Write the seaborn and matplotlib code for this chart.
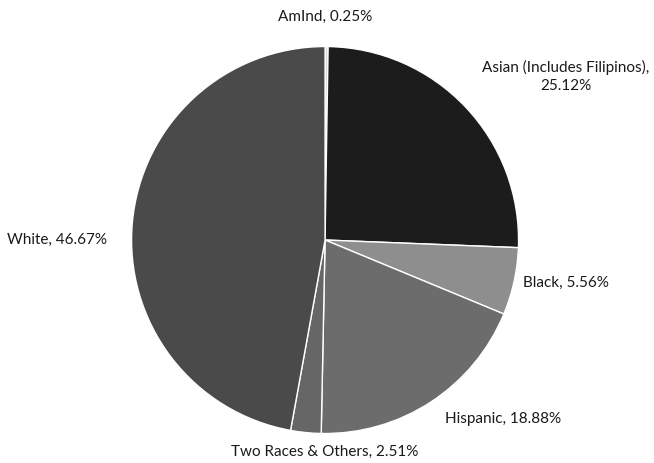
import matplotlib
matplotlib.use("Agg")
import matplotlib.pyplot as plt
import seaborn as sns

# data
groups = ["AmInd", "Asian (Includes Filipinos)", "Black", "Hispanic",
          "Two Races & Others", "White"]
shares = [0.25, 25.12, 5.56, 18.88, 2.51, 46.67]
label_texts = ["AmInd, 0.25%", "Asian (Includes Filipinos),\n25.12%", "Black, 5.56%",
               "Hispanic, 18.88%", "Two Races & Others, 2.51%", "White, 46.67%"]

slice_colors = ["#d8d8d8", "#1c1c1c", "#8e8e8e", "#6c6c6c", "#666666", "#4a4a4a"]
# label anchor points (data units, pie radius = 1)
label_pos = [(0.0, 1.155), (1.245, 0.845), (1.245, -0.22), (0.92, -0.925),
             (0.0, -1.095), (-1.385, 0.0)]

sns.set_style("white")
plt.rcParams["font.family"] = ["Lato", "DejaVu Sans"]

fig = plt.figure(figsize=(6.54, 4.63), dpi=100)
ax = fig.add_axes([0, 0, 1, 1])
ax.pie(shares, colors=slice_colors, startangle=90, counterclock=False,
       wedgeprops={"edgecolor": "white", "linewidth": 1.0})
for txt, (x, y) in zip(label_texts, label_pos):
    ax.text(x, y, txt, ha="center", va="center", fontsize=11, color="#1a1a1a",
            linespacing=1.3)
ax.set_xlim(-1.680, 1.700)
ax.set_ylim(-1.152, 1.240)
ax.set_aspect("equal")
ax.axis("off")

fig.savefig("out.png", dpi=100)
